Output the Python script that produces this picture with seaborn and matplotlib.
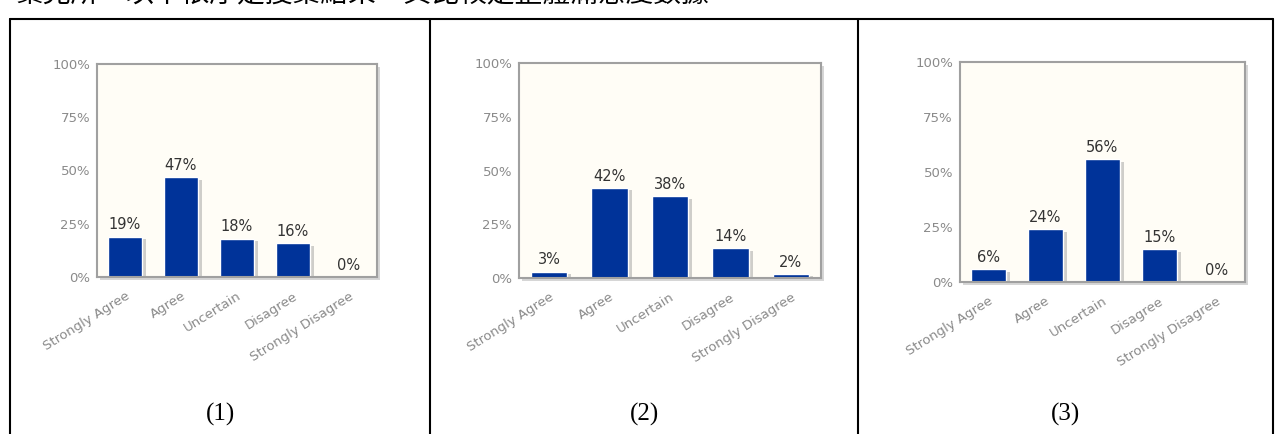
import pandas as pd
import matplotlib
matplotlib.use("Agg")
import matplotlib.pyplot as plt
import matplotlib.patheffects as pe
from matplotlib.lines import Line2D
import seaborn as sns

# Survey answers, share of respondents (%)
categories = ["Strongly Agree", "Agree", "Uncertain", "Disagree", "Strongly Disagree"]
values_1 = [19, 47, 18, 16, 0]
values_2 = [3, 42, 38, 14, 2]
values_3 = [6, 24, 56, 15, 0]
panel_labels = ["(1)", "(2)", "(3)"]
y_ticks = [0, 25, 50, 75, 100]
header_text = "業見所，以下依序是搜集結果，其比較是整體滿意度數據"

sns.set_style("white")
plt.rcParams['font.family'] = ['DejaVu Sans']

fig = plt.figure(figsize=(12.83, 4.34), dpi=100)

# axes rectangles in figure fractions
boxes = [
    [0.0756, 0.3618, 0.2182, 0.4908],
    [0.4045, 0.3594, 0.2354, 0.4954],
    [0.7482, 0.3502, 0.2221, 0.5069],
]
label_x = [0.1715, 0.5020, 0.8305]

shadow = [pe.SimplePatchShadow(offset=(3, -2), shadow_rgbFace='#888888', alpha=0.4), pe.Normal()]

for box, vals, lab, lx in zip(boxes, [values_1, values_2, values_3], panel_labels, label_x):
    ax = fig.add_axes(box)
    df = pd.DataFrame({"answer": categories, "pct": vals})
    sns.barplot(data=df, x="answer", y="pct", ax=ax, color="#003399",
                width=0.6, saturation=1)
    for bar in ax.patches:
        bar.set_path_effects(shadow)
    ax.bar_label(ax.containers[0], labels=[f"{v}%" for v in vals],
                 padding=3, fontsize=10.5, color="#333333")
    ax.set_ylim(0, 100)
    ax.set_xlim(-0.5, len(categories) - 0.5)
    ax.set_yticks(y_ticks)
    ax.set_yticklabels([f"{t}%" for t in y_ticks], fontsize=9.5, color="#8a8a8a")
    ax.set_xticks(range(len(categories)))
    ax.set_xticklabels(categories, rotation=32, ha="right", rotation_mode="anchor",
                       fontsize=9.5, color="#8a8a8a")
    ax.tick_params(axis="both", length=0)
    ax.tick_params(axis="y", pad=5)
    ax.tick_params(axis="x", pad=9)
    ax.set_xlabel("")
    ax.set_ylabel("")
    ax.set_facecolor("#fffdf6")
    for sp in ax.spines.values():
        sp.set_color("#a0a0a0")
        sp.set_linewidth(1.5)
    ax.patch.set_path_effects([pe.SimplePatchShadow(offset=(2, -2), shadow_rgbFace='#bbbbbb', alpha=0.6), pe.Normal()])
    fig.text(lx, 0.046, lab, ha="center", va="center", fontsize=18,
             family="Liberation Serif", color="black")

# table borders
for x in [0.0078, 0.3352, 0.6687, 0.9922]:
    fig.add_artist(Line2D([x, x], [0.0, 0.956], color="black", lw=1.5))
fig.add_artist(Line2D([0.0078, 0.9922], [0.956, 0.956], color="black", lw=1.5))

# header line from the page above, cut at the top edge as in the scan
fig.text(0.012, 1.012, header_text, ha="left", va="center", fontsize=20,
         family=["Noto Sans CJK TC", "DejaVu Sans"], color="black")

fig.savefig("out.png", dpi=100)
